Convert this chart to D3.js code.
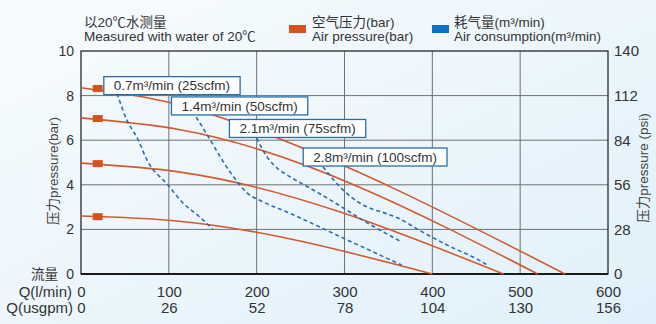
<!DOCTYPE html>
<html><head><meta charset="utf-8">
<script src="https://cdn.jsdelivr.net/npm/d3@7"></script>
<style>
html,body{margin:0;padding:0;background:#fff;}
svg{display:block;font-family:"Liberation Sans","Noto Sans CJK SC",Arial,sans-serif;}
</style></head>
<body><svg id="c" width="656" height="324"></svg>
<script>
// ---- data ----
const flowTicks = [0,100,200,300,400,500,600];
const usgpmTicks = [0,26,52,78,104,130,156];
const barTicks = [0,2,4,6,8,10];
const psiTicks = [0,28,56,84,112,140];

// pressure curves [flow l/min, bar]
const p84 = [[0,8.35],[101,7.69],[132,7.37],[173,6.83],[551,0]];
const p70 = [[0,7.0],[113,6.47],[520,0]];
const p50 = [[0,4.97],[113,4.57],[481,0]];
const p26 = [[0,2.6],[109,2.38],[400,0]];
const pressureSeries = [p84,p70,p50,p26];
const markerFlow = 19;
const markerBar = [8.32,6.97,4.95,2.57];

// air consumption curves [flow, bar]
const c07 = [[41,8.1],[52,6.92],[65,6.02],[75,5.12],[99,3.99],[116,3.19],[135,2.56],[150,2.02]];
const c14 = [[127,7.3],[147,6.02],[162,5.03],[172,4.45],[189,3.64],[207,3.24],[238,2.72],[291,1.75],[365,0.40]];
const c21 = [[200,6.1],[211,5.3],[223,4.76],[238,4.36],[264,3.78],[291,3.15],[324,2.34],[363,1.48]];
const c28 = [[275.5,4.81],[292.6,4.0],[308.5,3.42],[325.6,3.01],[348.4,2.7],[363.2,2.47],[382.6,2.02],[416.7,1.3],[454.3,0.6],[464.5,0.36]];
const consumptionSeries = [c07,c14,c21,c28];
const consumptionLabels = ["0.7m\u00b3/min (25scfm)","1.4m\u00b3/min (50scfm)","2.1m\u00b3/min (75scfm)","2.8m\u00b3/min (100scfm)"];
const labelFlow = [26,103,169,253];
const labelBar = [8.85,7.94,6.93,5.65];

// ---- drawing ----
const svg = d3.select("#c");
const defs = svg.append("defs");
const g = defs.append("linearGradient").attr("id","bg").attr("x1","0").attr("y1","0").attr("x2","1").attr("y2","1");
g.append("stop").attr("offset","0").attr("stop-color","#f8fcfe");
g.append("stop").attr("offset","1").attr("stop-color","#e0f0fa");
svg.append("rect").attr("width",656).attr("height",324).attr("fill","url(#bg)");

const x = d3.scaleLinear().domain([0,600]).range([81,608]);
const xg = d3.scaleLinear().domain([0,156]).range([81,608]);
const y = d3.scaleLinear().domain([0,10]).range([274,51]);
const yp = d3.scaleLinear().domain([0,140]).range([274,51]);
const txt = "#333";

// grid
svg.append("g").selectAll("line").data(barTicks.filter(d=>d>0&&d<10)).join("line")
  .attr("x1",x(0)).attr("x2",x(600)).attr("y1",d=>y(d)).attr("y2",d=>y(d))
  .attr("stroke","#6f7173").attr("stroke-width",1);
svg.append("g").selectAll("line").data(flowTicks.filter(d=>d>0&&d<600)).join("line")
  .attr("x1",d=>x(d)).attr("x2",d=>x(d)).attr("y1",y(0)).attr("y2",y(10))
  .attr("stroke","#6f7173").attr("stroke-width",1);

// frame
svg.append("rect").attr("x",x(0)).attr("y",y(10)).attr("width",x(600)-x(0)).attr("height",y(0)-y(10))
  .attr("fill","none").attr("stroke","#2a2a2a").attr("stroke-width",1.3);
svg.append("line").attr("x1",x(0)).attr("x2",x(600)).attr("y1",y(0)).attr("y2",y(0))
  .attr("stroke","#1a1a1a").attr("stroke-width",2);

// pressure lines
const line = d3.line().x(d=>x(d[0])).y(d=>y(d[1])).curve(d3.curveMonotoneX);
svg.append("g").selectAll("path").data(pressureSeries).join("path")
  .attr("d",line).attr("fill","none").attr("stroke","#d5592d").attr("stroke-width",1.6);

// consumption dashed lines
svg.append("g").selectAll("path").data(consumptionSeries).join("path")
  .attr("d",line).attr("fill","none").attr("stroke","#2d6cb2").attr("stroke-width",1.6)
  .attr("stroke-dasharray","4,3");

// markers
svg.append("g").selectAll("rect").data(markerBar).join("rect")
  .attr("x",x(markerFlow)-5).attr("y",d=>y(d)-3.5).attr("width",10).attr("height",7)
  .attr("fill","#d5521f");

// label boxes
const lb = svg.append("g").selectAll("g").data(consumptionLabels).join("g")
  .attr("transform",(d,i)=>`translate(${x(labelFlow[i])},${y(labelBar[i])})`);
lb.append("rect").attr("class","bx").attr("height",18).attr("fill","#fff")
  .attr("stroke","#2a6ea6").attr("stroke-width",1.3);
lb.append("text").attr("x",10).attr("y",13.6).attr("font-size",13.5).attr("fill",txt).text(d=>d);
lb.each(function(){
  const t = d3.select(this).select("text").node().getComputedTextLength();
  d3.select(this).select("rect").attr("width",t+20);
});

// axes
function styleAxis(sel,fs){
  sel.select(".domain").remove();
  sel.selectAll("line").remove();
  sel.selectAll("text").attr("font-size",fs).attr("fill",txt).attr("font-family",null);
  sel.attr("font-family",null);
}
svg.append("g").attr("transform",`translate(${x(0)},0)`)
  .call(d3.axisLeft(y).tickValues(barTicks).tickSize(0).tickPadding(7).tickFormat(d3.format("d")))
  .call(s=>styleAxis(s,14));
svg.append("g").attr("transform",`translate(${x(600)},0)`)
  .call(d3.axisRight(yp).tickValues(psiTicks).tickSize(0).tickPadding(6).tickFormat(d3.format("d")))
  .call(s=>styleAxis(s,15));
svg.append("g").attr("transform",`translate(0,${y(0)})`)
  .call(d3.axisBottom(x).tickValues(flowTicks).tickSize(0).tickPadding(12.4).tickFormat(d3.format("d")))
  .call(s=>styleAxis(s,15));
svg.append("g").attr("transform",`translate(0,${y(0)})`)
  .call(d3.axisBottom(xg).tickValues(usgpmTicks).tickSize(0).tickPadding(28.4).tickFormat(d3.format("d")))
  .call(s=>styleAxis(s,15));

// axis side texts
svg.append("text").attr("x",58).attr("y",y(0)).attr("dy","0.35em").attr("text-anchor","end")
  .attr("font-size",13.5).attr("fill",txt).text("流量");
svg.append("text").attr("x",72).attr("y",297).attr("text-anchor","end")
  .attr("font-size",15).attr("fill",txt).text("Q(l/min)");
svg.append("text").attr("x",73).attr("y",313).attr("text-anchor","end")
  .attr("font-size",15).attr("fill",txt).text("Q(usgpm)");

svg.append("text").attr("transform","translate(58,171) rotate(-90)").attr("text-anchor","middle")
  .attr("font-size",13.5).attr("fill","#444").text("压力pressure(bar)");
svg.append("text").attr("transform","translate(648,168) rotate(-90)").attr("text-anchor","middle")
  .attr("font-size",13.5).attr("fill","#444").text("压力pressure (psi)");

// header
svg.append("text").attr("x",84).attr("y",26.5).attr("font-size",13.5).attr("fill",txt).text("以20℃水测量");
svg.append("text").attr("x",84).attr("y",41).attr("font-size",13.5).attr("fill",txt).text("Measured with water of 20℃");

// legend
svg.append("rect").attr("x",289).attr("y",25).attr("width",17).attr("height",8).attr("fill","#d5521f");
svg.append("text").attr("x",312).attr("y",26.5).attr("font-size",13.5).attr("fill",txt).text("空气压力(bar)");
svg.append("text").attr("x",312).attr("y",41).attr("font-size",13.5).attr("fill",txt).text("Air pressure(bar)");
svg.append("rect").attr("x",432).attr("y",25).attr("width",17).attr("height",8).attr("fill","#0f70bd");
svg.append("text").attr("x",454).attr("y",26.5).attr("font-size",13.5).attr("fill",txt).text("耗气量(m\u00b3/min)");
svg.append("text").attr("x",454).attr("y",41).attr("font-size",13.5).attr("fill",txt).text("Air consumption(m\u00b3/min)");
</script>
</body></html>
